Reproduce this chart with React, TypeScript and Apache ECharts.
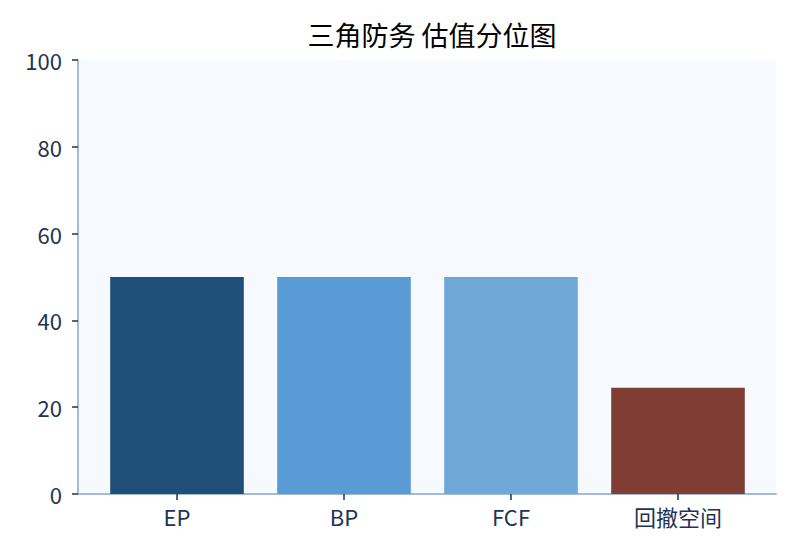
import { useEffect, useRef } from 'react';
import * as echarts from 'echarts';

const categories = ['EP', 'BP', 'FCF', '回撤空间'];
const values = [50, 50, 50, 24.5];
const barColors = ['#1f4e79', '#5b9bd5', '#6fa8d6', '#7f3d34'];
const yTicks = { min: 0, max: 100, interval: 20 };

const textColor = '#1f3354';
const axisColor = '#a3bcd3';
const fontFamily = '"Noto Sans CJK SC", "Noto Sans", sans-serif';

export default function App() {
  const containerRef = useRef<HTMLDivElement>(null);

  useEffect(() => {
    if (!containerRef.current) return;
    const chart = echarts.init(containerRef.current, null, { renderer: 'svg' });

    // grid 0: full plot frame (background, y axis, bottom spine)
    // grid 1: inset category band so bars keep matplotlib-style side margins
    const option: echarts.EChartsOption = {
      animation: false,
      backgroundColor: '#ffffff',
      textStyle: { fontFamily },
      title: {
        text: '三角防务 估值分位图',
        left: 427,
        textAlign: 'center',
        top: 16,
        textStyle: { color: '#000000', fontSize: 27, fontWeight: 'normal', fontFamily }
      },
      grid: [
        { left: 78, right: 24, top: 60, bottom: 66, show: true, backgroundColor: '#f6f9fe', borderWidth: 0 },
        { left: 93.5, right: 38.5, top: 60, bottom: 66 }
      ],
      xAxis: [
        {
          type: 'value',
          gridIndex: 0,
          min: 0,
          max: 1,
          axisLine: { show: true, lineStyle: { color: axisColor, width: 2 } },
          axisTick: { show: false },
          axisLabel: { show: false },
          splitLine: { show: false }
        },
        {
          type: 'category',
          gridIndex: 1,
          data: categories,
          axisLine: { show: false },
          axisTick: { show: true, alignWithLabel: true, length: 6, lineStyle: { color: textColor, width: 1.5 } },
          axisLabel: { color: textColor, fontSize: 22, margin: 11 }
        }
      ],
      yAxis: [
        {
          type: 'value',
          gridIndex: 0,
          min: yTicks.min,
          max: yTicks.max,
          interval: yTicks.interval,
          axisLine: { show: true, lineStyle: { color: axisColor, width: 2 } },
          axisTick: { show: true, length: 6, lineStyle: { color: textColor, width: 1.5 } },
          axisLabel: { color: textColor, fontSize: 22, margin: 16 },
          splitLine: { show: false }
        },
        {
          type: 'value',
          gridIndex: 1,
          min: yTicks.min,
          max: yTicks.max,
          show: false
        }
      ],
      series: [
        {
          type: 'bar',
          xAxisIndex: 1,
          yAxisIndex: 1,
          barCategoryGap: '20%',
          data: values.map((v, i) => ({ value: v, itemStyle: { color: barColors[i] } }))
        }
      ]
    };

    chart.setOption(option, true);
    return () => chart.dispose();
  }, []);

  return (
    <div
      ref={containerRef}
      style={{ position: 'fixed', left: 0, top: 0, width: 800, height: 560 }}
    />
  );
}
